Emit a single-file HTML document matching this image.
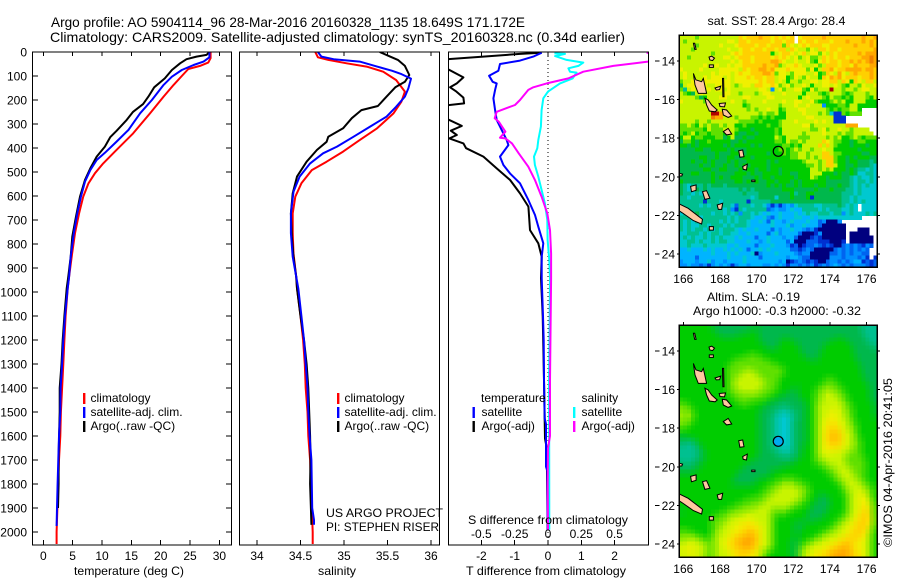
<!DOCTYPE html>
<html lang="en">
<head>
<meta charset="utf-8">
<title>Argo profile 5904114_96</title>
<style>
html,body{margin:0;padding:0;background:#fff;}
svg{display:block;}
text{font-family:"Liberation Sans",sans-serif;fill:#000;}
.t14{font-size:14px;}
.t12{font-size:12px;}
</style>
</head>
<body>
<svg id="chart" xmlns="http://www.w3.org/2000/svg" width="900" height="580" viewBox="0 0 900 580">
  <rect x="0" y="0" width="900" height="580" fill="#fff"/>
  <text class="t14" x="51" y="27" textLength="474" lengthAdjust="spacingAndGlyphs">Argo profile: AO 5904114_96 28-Mar-2016 20160328_1135 18.649S 171.172E</text>
  <text class="t14" x="50" y="42" textLength="575" lengthAdjust="spacingAndGlyphs">Climatology: CARS2009. Satellite-adjusted climatology: synTS_20160328.nc (0.34d earlier)</text>

  <g id="plots"></g>

  <text class="t12" x="74" y="575" textLength="110" lengthAdjust="spacingAndGlyphs">temperature (deg C)</text>
  <text class="t12" x="318" y="575" textLength="38" lengthAdjust="spacingAndGlyphs">salinity</text>
  <text class="t12" x="466" y="575" textLength="160" lengthAdjust="spacingAndGlyphs">T difference from climatology</text>
  <text class="t12" x="468" y="524" textLength="160" lengthAdjust="spacingAndGlyphs">S difference from climatology</text>

  <g>
    <rect x="83" y="393" width="2.4" height="11" fill="#f00"/>
    <text class="t12" x="90.5" y="402">climatology</text>
    <rect x="83" y="407" width="2.4" height="11" fill="#00f"/>
    <text class="t12" x="90.5" y="416">satellite-adj. clim.</text>
    <rect x="83" y="421" width="2.4" height="11" fill="#000"/>
    <text class="t12" x="90.5" y="430">Argo(..raw -QC)</text>
  </g>
  <g>
    <rect x="337" y="393" width="2.4" height="11" fill="#f00"/>
    <text class="t12" x="344.5" y="402">climatology</text>
    <rect x="337" y="407" width="2.4" height="11" fill="#00f"/>
    <text class="t12" x="344.5" y="416">satellite-adj. clim.</text>
    <rect x="337" y="421" width="2.4" height="11" fill="#000"/>
    <text class="t12" x="344.5" y="430">Argo(..raw -QC)</text>
  </g>
  <g>
    <text class="t12" x="481" y="402">temperature</text>
    <text class="t12" x="581.5" y="402">salinity</text>
    <rect x="472.5" y="407" width="2.4" height="11" fill="#00f"/>
    <text class="t12" x="481.5" y="416">satellite</text>
    <rect x="472.5" y="421" width="2.4" height="11" fill="#000"/>
    <text class="t12" x="481.5" y="430">Argo(-adj)</text>
    <rect x="573" y="407" width="2.4" height="11" fill="#0ff"/>
    <text class="t12" x="581.5" y="416">satellite</text>
    <rect x="573" y="421" width="2.4" height="11" fill="#f0f"/>
    <text class="t12" x="581.5" y="430">Argo(-adj)</text>
  </g>
  <text class="t12" x="326" y="517" textLength="117" lengthAdjust="spacingAndGlyphs">US ARGO PROJECT</text>
  <text class="t12" x="326" y="531" textLength="113" lengthAdjust="spacingAndGlyphs">PI: STEPHEN RISER</text>

  <text class="t12" x="707.5" y="25" textLength="138" lengthAdjust="spacingAndGlyphs">sat. SST: 28.4  Argo: 28.4</text>
  <text class="t12" x="707" y="301" textLength="93" lengthAdjust="spacingAndGlyphs">Altim. SLA: -0.19</text>
  <text class="t12" x="693" y="315" textLength="168" lengthAdjust="spacingAndGlyphs">Argo h1000: -0.3 h2000: -0.32</text>
  <text class="t12" transform="translate(892,547) rotate(-90)" x="0" y="0" textLength="169" lengthAdjust="spacingAndGlyphs">©IMOS 04-Apr-2016 20:41:05</text>
</svg>

<script>
/* ---------- ticks ---------- */
const depthTicks = [0,100,200,300,400,500,600,700,800,900,1000,1100,1200,1300,1400,1500,1600,1700,1800,1900,2000];
const tempTicks = [0,5,10,15,20,25,30];
const salTicks = [34,34.5,35,35.5,36];
const salTickLabels = ['34','34.5','35','35.5','36'];
const tDiffTicks = [-2,-1,0,1,2];
const sDiffTicks = [-0.5,-0.25,0,0.25,0.5];
const sDiffTickLabels = ['-0.5','-0.25','0','0.25','0.5'];
const lonTicks = [166,168,170,172,174,176];
const latTicks = [14,16,18,20,22,24];

/* ---------- temperature profiles (deg C vs depth m) ---------- */
const tempClimDepth = [0,26,44,58,71,100,137,186,255,339,415,464,505,547,603,672,755,840,936,985,1100,1200,1300,1400,1500,1600,1700,1800,1900,2000,2050];
const tempClimValue = [28.5,28.5,28.1,26.7,24.7,23.6,22.2,20.5,18.2,15.3,12.2,10.2,8.8,7.7,6.8,6.1,5.4,4.9,4.4,4.15,3.8,3.6,3.4,3.2,3.0,2.9,2.67,2.5,2.4,2.27,2.27];
const tempSatDepth = [0,22,40,54,75,103,137,200,255,325,373,420,450,492,540,603,672,755,853,936,985,1100,1200,1300,1400,1500,1600,1700,1800,1900,1975];
const tempSatValue = [28.3,28.3,27.3,25.6,23.6,21.9,20.5,18.5,16.5,14.5,12.5,10.5,9.1,8.0,7.1,6.4,5.8,5.2,4.66,4.4,4.15,3.7,3.4,3.2,2.95,2.9,2.67,2.55,2.44,2.33,2.27];
const tempArgoDepth = [0,12,19,30,47,75,110,147,186,217,249,283,328,355,394,436,485,533,603,686,769,853,936,985,1100,1200,1300,1400,1500,1600,1700,1800,1900];
const tempArgoValue = [28.3,27.8,26.1,24.4,23.3,21.9,20.7,18.9,17.9,17.0,15.3,14.2,12.5,11.4,10.5,9.1,8.0,7.1,6.25,5.57,4.94,4.66,4.26,3.98,3.6,3.3,3.1,2.8,2.8,2.7,2.6,2.6,2.5];

/* ---------- salinity profiles ---------- */
const salClimDepth = [0,22,33,47,61,82,117,165,207,255,318,367,415,457,492,547,603,672,755,840,936,985,1100,1200,1300,1400,1500,1600,1700,1800,1900,2000,2050];
const salClimValue = [34.67,34.70,34.82,35.03,35.26,35.45,35.6,35.70,35.66,35.57,35.38,35.18,34.99,34.80,34.63,34.51,34.44,34.41,34.41,34.42,34.45,34.46,34.50,34.53,34.55,34.56,34.58,34.59,34.61,34.62,34.63,34.64,34.64];
const salSatDepth = [0,19,30,40,61,78,92,111,151,186,228,269,311,353,394,422,464,519,582,672,755,853,936,985,1100,1200,1300,1400,1500,1600,1700,1800,1900,1950,1970];
const salSatValue = [34.70,34.74,34.88,35.18,35.38,35.55,35.66,35.77,35.74,35.70,35.6,35.49,35.30,35.11,34.92,34.76,34.61,34.49,34.42,34.39,34.39,34.41,34.45,34.475,34.51,34.54,34.56,34.58,34.59,34.605,34.625,34.63,34.635,34.655,34.655];
const salArgoDepth = [0,19,33,58,96,124,147,186,225,242,276,318,353,374,408,457,519,589,672,769,853,936,985,1100,1200,1300,1400,1500,1600,1700,1800,1900,1970];
const salArgoValue = [35.41,35.53,35.62,35.70,35.75,35.70,35.59,35.49,35.39,35.20,35.09,34.99,34.82,34.80,34.69,34.57,34.46,34.41,34.39,34.40,34.42,34.45,34.46,34.50,34.54,34.57,34.59,34.60,34.61,34.615,34.61,34.62,34.625];

/* ---------- difference profiles ---------- */
const diffTSatDepth = [3,19,36,50,78,99,124,131,158,193,242,283,325,367,388,436,471,506,547,617,679,728,797,853,943,1100,1200,1367,1527,1550,1728,1745,1992];
const diffTSatValue = [-0.19,-0.44,-0.84,-1.44,-1.49,-1.77,-1.66,-1.54,-1.59,-1.64,-1.59,-1.54,-1.39,-1.24,-1.19,-1.44,-1.34,-1.14,-0.84,-0.59,-0.39,-0.29,-0.14,-0.19,-0.19,-0.15,-0.13,-0.12,-0.1,-0.06,-0.06,-0.02,-0.01];
const diffTArgoDepth = [3,8,17,30,45,60,72,106,131,147,165,190,214,228,242,265,281,308,328,346,360,381,401,436,485,533,589,644,742,797,853,943,1100,1367,1610,1650,1992];
const diffTArgoValue = [-0.19,-0.84,-1.74,-3.0,-4.2,-3.8,-3.0,-2.54,-2.74,-2.94,-2.75,-2.54,-2.52,-3.4,-3.6,-3.4,-3.0,-2.59,-2.92,-2.74,-2.96,-2.54,-2.46,-1.94,-1.54,-1.14,-0.84,-0.59,-0.54,-0.29,-0.19,-0.21,-0.16,-0.12,-0.09,-0.04,-0.01];
const diffSSatDepth = [6,8,17,33,44,58,68,82,86,110,131,165,193,242,311,367,401,436,471,519,575,631,700,783,867,943,1367,1990];
const diffSSatValue = [0.048,0.128,0.053,0.14,0.265,0.228,0.153,0.165,0.215,0.185,0.09,0.0,-0.035,-0.048,-0.053,-0.073,-0.08,-0.105,-0.098,-0.073,-0.048,-0.023,-0.005,-0.003,0.01,0.015,0.008,0.01];
const diffSArgoDepth = [3,20,40,58,82,110,131,147,158,200,221,249,276,290,332,357,360,381,422,478,533,603,672,742,839,943,1367,1600,1650,1800,1990];
const diffSArgoValue = [0.74,0.95,0.75,0.49,0.265,0.153,-0.01,-0.11,-0.148,-0.21,-0.248,-0.385,-0.40,-0.37,-0.32,-0.36,-0.32,-0.27,-0.22,-0.148,-0.098,-0.048,-0.005,0.015,0.023,0.023,0.015,0.015,0.0,-0.002,0.0];

/* ---------- map data: one letter per grid cell, '.' = missing ---------- */
const colourBins = {a:'#00007f',b:'#0030d0',c:'#0064f0',d:'#0090ff',e:'#00b4ff',f:'#00c8d0',g:'#00c090',h:'#00b84c',i:'#00cc00',j:'#60e000',k:'#c8f400',l:'#f0f000',m:'#ffd000',n:'#ffa800',o:'#f08000',p:'#b00000'};
const sstRows = [
'kkkkjkkkkk kkkkkmlmmm nmmlmlmlm. lmmmmmnmmm mmmmmmnmmn',
'kjkkkkkkkk kkllkmmlmm mmmlmmlmm. mlmmlmmmlm mmnmmmnmnm',
'kkkkjkkkkk lkkklmmmml mmlmmmjmlk lmlmmmllmm mmmmnmmmnm',
'kkkjkkkkkk kklkklmmlm mlmmlmmkml kkjlkmmlmm lmmmmmmmmn',
'kkkkkkkkjk kkklmlmmmm mmmiklmmlk lmklljlkml mmmmmnmnnn',
'kkjkkkkkkk kllklmmmlm mmmlmlmlkl jkljjkmlml mmlmmmnnon',
'kkkkkkkkkk kkklklmmlm mmmnnmlkkl kkljilmlmm lmmnmnmnon',
'kkkkkklkkl kklkllmmmm mnmmnjkllm lkkkljkmmm lmmlnmmmnn',
'lkkkklkkkk lllllkmlmm nnmnlllmll lljlikmmnl mmnnnnmnnm',
'klkkkkkklk lllklmllmm mnnmjllkjl llkklijmlk nlkmnmmmnm',
'klkkkklkll lklklllmlm mlmmkllijl kjlkkimlnm nlmmmlmmnm',
'jkklkkllll lllkllllll mlmmklkikk jkkllkllmm kmlimlkmmk',
'hkllkklkkl lllkjkllkm mllmljkljk klkikkllkl kjikkjlkkl',
'jgklkkklkl lklkkkkkkk llkdkljkkl ljiljkkkpk kjkkjkllkk',
'kjihklkkkk kllkkjkkkj kllkkklkkk kikkkjijkk kjijkkkjkk',
'kkkkjhikkk llkkkkllkk kkllkkkkkk iklkkkjikj jijikkkjik',
'lkkkkkjkkk kkklkkjkkk klkkkklkkl lkkljiiijk jkiikkkiii',
'kkkkkkkkkk kkkkkkijkk kkkkkjkkkl kklkkkdiii jjikkiiiii',
'kkkkkkkkkk kkkkkkkjkj kklkkijkkk llkkkkkjij ijjkki....',
'kkkkkkkkpp nkkkkkkkkk jkjjkiikkk klkkkjkjfb bjijjj....',
'kkkkkkkkon nkkkjkkkjj ijijiiikkk kkllkkkkkb bb........',
'kkkkjkkjkk kkkkkjjjji jiiiijkkkl kkkklklkkb bb........',
'jjkjikjkjj kjkkiijiii iijiijkkkk klljkkkkkk kknnn.....',
'jjjjjjikjj jkkkjiiihi iiiijikkkk kkkjjkljkk lkkjkkkk..',
'jijkijjijj jikkihhiih iiiijikkkk kjkkkklkkk jkjjkkkkk.',
'ikkijjiiij jhikhhihhi iiiikjikkk jjjkkkkjkj kiijkjijjj',
'hjjihiijii iiihhihiii iiiijjikjj kjkkkkmlkj jiihijjiii',
'iihihiiiii ihihiiiihi hiiiiijjij ikkkkmkmkj iiihiiihii',
'hhhhiihhii iihihhhiii iiiiijjijk jkkjkklkki iiiiihiiii',
'hhhhhhhhhi hhhiiihiii iihiiijijj kkjkkkmmkj jiiiiihhii',
'hhhhhiihhi hhiihhiihi iiiiiiiijj kkjkjkmmmj iihihiiihh',
'hhhihhihih hhihihhiii iihihiiiii ijkkkjkmmj iihiihhhgh',
'hhhhhihhih hihhihihii iihiiiiiii iijjkjkmmk iihhihhhgf',
'hhhhhhiihh iihhhihiih iihiihiiii iiikkjkjki iihihggfgf',
'hhhiihhhih hhhhiiihih hiiiihiihh iiikkkiiih ihhihffggf',
'hhhhhhhhih ihhiiihhhi hiihiiiiih iiikjiihii ihhgfgffgf',
'ihhhhhhhih hhhhiihihi hhiihiiihi hiiiiiihhh hhhgfggfgf',
'hgfggghghh hghhhhhhhh hhihihihhi hiiihiihhh ihhgfgfgff',
'hgfghghggg ggggghghgh hhhhhhiiih hhhhihhhih hhggfgffff',
'hggfgfgggg gggggghggg hhhhhhhhig hhiihhhhhh hgggfgffff',
'ggfggggggg ggggggggfg hhhhfhhhih hhibhhhhhh hggfgfffff',
'ggggggbggg fggggggbgg ggghhhhhhh hhhhhhhhhh hggfgfgfff',
'gggggfgfgg gggfcgggfg gfdbdbdedf ggggffgggg hgfgf.ffff',
'hggggggggg gfgdbgfggg ggcdeddefe eggggfgfgg gffgf.ffff',
'fggghgggfg gfgfgdggfg fefeefeeef efgffgggfg gdfgfffgfg',
'gggggfgggg ggfgfgggfe efdcefeeef feefefffff ffffff....',
'gfgfgggggg fgfgfggfee fecfeedefe eefeecdaaa d.........',
'gfgffggfgg gfgfgggfee eeefeeefde efeeecaaaa aa........',
'gfgfggfgfg fgggfefeef eeecedeefe edcdbaaaaa aa...aaa..',
'ffgggfgfgg fggffeefee eecefdeeee caaabdaaaa aa.aaaaa..',
'fgfgffgfgf gfffefeeec eefeeedeec aaabcbaaaa aa.aaaaaa.',
'ffggfgffgf ggffeeefee defeeeecea aacccbbbaa ab.aaaaaa.',
'ffgfffgfff ffeefeeeec eeefeeedbc abccdcbcba acdcdcbdc.',
'eefeeefefe efefefecee fefeeeeecc bcdcaaaaac dcdcdcdc..',
'eeeeeeeefe eefefeeefa deeefeeeed cddaaaaacc dcdcddcc..',
'eeeeceeeee eefeeefeee ceeeeeedee dccaaaaadd dcdddcdb.b',
'deeedeefde edeeeefeee eeeeedeabc dcbcbaacdd cdcdeebcbc',
'ddeddcdbde dedbdeedee eddededbdd cdcdbcdcde dcdcdddcbc'
];
const slaRows = [
'iiiiiiiihh hhhhhhhhhh hhhhhhhhhh hhhhhhhhhh hhhhhhgggg',
'iiiiiiiiih hhhhhhhhii hhhhhhhhhh hhhhhhhhhh hhhhhhgggg',
'iiiiiiiiii hhhhhiiiii hhhhhhhhhh hhhhhhhhhh hhhhhhhggg',
'iiiiiiiiii iiiiiiiiii hhhhhhiihh hhhhhhhhhi iihhhhhggg',
'iiiiiiiiii iiiiiiiiii ihhhhiiiii hhhhhhhiii iiihhhhhgg',
'iiiiiiiiii iiiiiiiiii iihhhiiiii hhhhhhiiii iiiihhhhhg',
'iiiiiiiiii iiiiiiiiii iiiiiiiiii ihhhhhiiii iiiihhhhhh',
'iiiiiiiiii iiiiiiijjj iiiiiiiiii ihhhhiiiii iiiihhhhhh',
'iiiiiiiiii iiiijjjjjj jjiiiiiiii iiihhiiiii iiiiihhhhh',
'iiiiiiiiii iiijjjjjjj jjjjiiiiii iiiiiiiiii iiiiihhhhh',
'iiiiiiiiii iijjjjjjjj jjjjjjiiii iiiiiiiiii iiiiiihhhh',
'iiiiiiiiii iijjjjkkkj jjjjjjjiii iiiiiiiiii iiiiiihhhh',
'iiiiiiiiii iijjjkkkkk jjjjjjiiii iiiiiiiiii iiiiiihhhh',
'iiiiiiiiii iijjkkkkkk kjjjjiiiii iiiiiiijji iiiiiiihhh',
'iiiiiiiiii iijjkkkkkk kkjjjiiiii iiiiiijjjj iiiiiiihhh',
'iiiiiiiiii iijjkkkkkk kjjjjiiiih iiiiijjjjj jiiiiiiihh',
'iiiiiiiiii iijjjkkkkk jjjjiiiihh iiiijjkkkj jjiiiiiihh',
'iiiiiiiiii iiijjjjjjj jjjiiihhhh iiiijjkkkk jjiiiiiihh',
'iiiiiiiiii iiiijjjjjj jiiihhhhhh hiiijjkkkk kjjiiiiihh',
'jjiiiiiiii iiiiijjjii iihhhhhhhh hhiijkkkkk kjjiiiiiih',
'jjjiiiiiii iiiiiiiiii ihhhhggghh hhiijkkkkl kkjjiiiiih',
'jkjjiiiiii iiiiiiiiii hhhhgggggh hhiijkkkll kkjjiiiiih',
'jkjjiiiiii iiiiiiiiii hhhggfffgg hhiijkklll kkjjiiiiih',
'jkjjiiiiii iiiiiiiiii hhhggfffgh hhiijkklll lkkjiiiiii',
'jjjiiiiiii iiiiiiiiii hhhggfffgh hhiijkllml lkkjjiiiii',
'jjiiiiiiii iiiiiiiiii hhhggfffgh hhiijkllmm lkkjjiiiii',
'iiiiiiiiii iiiiiiiiii hhhggfffgh hhiijklmmm mlkkjiiiii',
'hiiiiiiiii iiiiiiiiii hhhggfffgh hhiijklmmn mlkkjiiiii',
'hhhhiiiiii iiiiiiiiii hhhggfffgh hhiijklmmn mlkkjjiiii',
'hggghiiiii iiiiiiiiii hhhggfffgh hhiijklmmm mlkkjjiiii',
'gggghhiiii iiiiiiiiii hhhgggffgh hiiijklllm llkkjjiiii',
'ggggghiiii iiiiiiiiii hhhhgggggh hiiijkllll kkkjjjiiii',
'ggggghhiii iiiiiiiiii hhhhhggggh hiiijkkkkk kkjjjjiiii',
'gggghhiiii iiiiiiiiih hhhhhhhhhh iiiijjkkkk kkjjjjjiii',
'hgghhhiiii iiiiiiihhh hhhhhhhhhi iiiijjjkkk kkjjjjjiii',
'hhhhhiiiii iiiiiihhhh hhhhhhiiii iiiiiijjjk kkkjjjjiii',
'hhhhiiiiii iiiiihhhhh hhhiiiiiii iiiiiiijjj kkkkjjjiii',
'iiiiiiiiii iiiihhhhhh hhhiiiiiii iiiiiiiijj kkkkjjjiii',
'iiiiiiiiii iiiihhhhhh iiiiijjjjj iiiiiiiiij jkkkkjjiii',
'iiiiiiiiii iiihhhhhhi iiijjjjkjj jjiiiiiiii jjkkkkjjii',
'iiiiiiiiii iiiiiiiiii iijjjkkkkk jjjiiiiiii ijkkkkkjji',
'iiiiiiiiii iiiiiiiiii ijjjkkkkkk kjjiiiiiii ijjkkkljji',
'iiiiiiiiii iiiiiiiiii jjjkkkkkkk kjjiihhiii iijkkllkji',
'iiiiiiiiii iiiiiiijjj jjkkkkkkkk jjiiihhhii iijkklllji',
'iiiiiiiiii iiiiijjjjj jkkkkkkkkj jjiihhhhii iijkklllki',
'iiiiiiiiii iiijjjjjjk kkkkjkkjjj iiihhhhhii iijkkllmki',
'hiiiiiiiii ijjjjjkkkk kkkjjjjjii iiihhhhiii iijkklmmki',
'iiiiiiiiij jjjkkkkkkk kkkjijiiii iihhhhhiii ijjkllmmli',
'iiiiiiiijj jjkkkklllk kkkjiiiiii iihhhiiiii jjkklmmmli',
'iiiiiiiijj jkkkllllll kkkjiiiiih hhiiiiiiij jkkllmmmli',
'iiiiiiiijj kkklllmmml lkkjiiiiih hiiiiiiijj kkllmmmlki',
'jjjiiiiijj kkklllmmmm lkkjiiiiih iiiiiijjjk kkllmmmlji',
'jjjjjiiijk kkllmmmnnm lkkjiiiiih iiiiijjkkk kllmmmllji',
'jkkkkjjjjk kllmmnnnnm lkkjiiiiih iiijjkkkkl lmmmmllkji',
'kkkkkkjjjk kllmmnnnnm lkkjiiiihh ijjkkkklll mmmmlllkji',
'klllkkkjjk kllmmmnnmm lkkjiiiihh jjkkklllmm mnnmlllkji',
'kllllkkjjk kkllmmmmml kjjiiiiiih jkkllllmmn nnnmmllkji',
'kkkkkkjjjk kkkllmmlll kjiiiiiihh jkkllmmmnn nnnmmllkji'
];
/* island outlines as lon,lat pairs */
const islands = [
 [[166.55,14.64],[166.69,14.98],[167.0,15.07],[167.09,14.9],[167.27,15.68],[166.82,15.68],[166.64,15.24]],
 [[167.18,15.93],[167.36,16.02],[167.55,16.28],[167.85,16.54],[167.73,16.63],[167.42,16.59],[167.27,16.28]],
 [[166.55,13.08],[166.62,13.08],[166.7,13.4],[166.62,13.4]],
 [[167.4,13.8],[167.55,13.75],[167.7,13.85],[167.6,13.98],[167.45,13.95]],
 [[167.42,14.2],[167.64,14.2],[167.64,14.33],[167.42,14.33]],
 [[168.14,14.9],[168.2,14.9],[168.22,15.85],[168.16,15.85]],
 [[167.73,15.4],[168.04,15.3],[167.98,15.48],[167.8,15.5]],
 [[167.96,16.2],[168.3,16.17],[168.25,16.38],[168.0,16.36]],
 [[168.13,16.5],[168.36,16.54],[168.64,16.85],[168.45,16.92],[168.18,16.8]],
 [[168.18,17.66],[168.45,17.49],[168.64,17.78],[168.36,17.83]],
 [[169.02,18.65],[169.24,18.61],[169.31,18.96],[169.09,18.99]],
 [[169.24,19.47],[169.49,19.34],[169.45,19.65],[169.27,19.61]],
 [[169.73,20.17],[169.91,20.17],[169.91,20.25],[169.73,20.25]],
 [[165.7,21.37],[166.27,21.63],[167.05,22.2],[167.0,22.45],[166.55,22.27],[166.0,21.9],[165.7,21.72]],
 [[166.4,20.5],[166.7,20.42],[166.7,20.7],[166.45,20.77]],
 [[167.05,20.77],[167.27,20.72],[167.45,21.11],[167.18,21.17]],
 [[167.85,21.46],[168.15,21.37],[168.09,21.69],[167.91,21.69]],
 [[167.42,22.58],[167.64,22.58],[167.64,22.76],[167.42,22.76]],
 [[165.78,19.82],[165.96,19.86],[165.92,19.96],[165.78,19.96]]
];
const floatLon = 171.18;
const floatLat = 18.68;

/* ---------- axis functions ---------- */
const yDepth = d => 52 + 0.24 * d;
const xTemp = v => 43.3 + 5.87 * v;
const xSal = v => 257 + 87 * (v - 34);
const xTDiff = v => 548 + 33.3 * v;
const xSDiff = v => 548 + 133.2 * v;
const xLon = v => 683.3 + 18.33 * (v - 166);
const yLat = (v, off) => 61 + off + 19.3 * (v - 14);
const cellLonStart = 165.78, cellLonStep = 0.216;
const cellLatStart = 12.67, cellLatStep = 0.2073;

const NS = 'http://www.w3.org/2000/svg';
const root = document.getElementById('plots');
function mk(tag, parent) {
  const node = document.createElementNS(NS, tag);
  parent.appendChild(node);
  return node;
}
function tickLine(parent, x1, y1, x2, y2) {
  const el = mk('line', parent);
  
  
  el.setAttribute('x1', x1);
  el.setAttribute('y1', y1);
  el.setAttribute('x2', x2);
  el.setAttribute('y2', y2);
  el.setAttribute('stroke', '#000');
  el.setAttribute('stroke-width', '1');
  el.setAttribute('shape-rendering', 'crispEdges');
}
function label(parent, str, x, y, anchor, name) {
  const el = mk('text', parent);
  
  
  el.setAttribute('class', 't12');
  el.setAttribute('x', x);
  el.setAttribute('y', y);
  el.setAttribute('text-anchor', anchor);
  el.textContent = str;
}
function clip(id, x, y, w, h) {
  const cp = mk('clipPath', root);
  cp.id = id;
  const r = mk('rect', cp);
  r.setAttribute('x', x);
  r.setAttribute('y', y);
  r.setAttribute('width', w);
  r.setAttribute('height', h);
}
function frame(parent, x, y, w, h, name) {
  const el = mk('rect', parent);
  
  
  el.setAttribute('x', x);
  el.setAttribute('y', y);
  el.setAttribute('width', w);
  el.setAttribute('height', h);
  el.setAttribute('fill', 'none');
  el.setAttribute('stroke', '#000');
  el.setAttribute('stroke-width', '1.3');
  el.setAttribute('shape-rendering', 'crispEdges');
}
function series(parent, depths, values, xf, colour, clipId, name) {
  const el = mk('polyline', parent);
  
  
  el.setAttribute('points', depths.map((d, i) => xf(values[i]).toFixed(1) + ',' + yDepth(d).toFixed(1)).join(' '));
  el.setAttribute('fill', 'none');
  el.setAttribute('stroke', colour);
  el.setAttribute('stroke-width', '2');
  el.setAttribute('stroke-linejoin', 'round');
  el.setAttribute('clip-path', 'url(#' + clipId + ')');
}

/* ---------- profile panels ---------- */
const panelTop = 52, panelBottom = 545;
clip('clip-temp', 32.5, panelTop, 199, panelBottom - panelTop);
clip('clip-sal', 239.5, panelTop, 200, panelBottom - panelTop);
clip('clip-diff', 448.5, panelTop, 200, panelBottom - panelTop);

const tempPanel = mk('g', root);


series(tempPanel, tempClimDepth, tempClimValue, xTemp, '#f00', 'clip-temp', 'temperature-climatology-line');
series(tempPanel, tempArgoDepth, tempArgoValue, xTemp, '#000', 'clip-temp', 'temperature-argo-line');
series(tempPanel, tempSatDepth, tempSatValue, xTemp, '#00f', 'clip-temp', 'temperature-satellite-line');
frame(tempPanel, 32.5, panelTop, 199, panelBottom - panelTop, 'temperature-plot-frame');
depthTicks.forEach(d => {
  tickLine(tempPanel, 32.5, yDepth(d), 38, yDepth(d));
  tickLine(tempPanel, 226, yDepth(d), 231.5, yDepth(d));
  label(tempPanel, d, 27, yDepth(d) + 4.5, 'end', 'depth-tick-label');
});
tempTicks.forEach(v => {
  tickLine(tempPanel, xTemp(v), panelTop, xTemp(v), panelTop + 4);
  tickLine(tempPanel, xTemp(v), panelBottom - 5, xTemp(v), panelBottom);
  label(tempPanel, v, xTemp(v), 560, 'middle', 'temperature-tick-label');
});

const salPanel = mk('g', root);


series(salPanel, salClimDepth, salClimValue, xSal, '#f00', 'clip-sal', 'salinity-climatology-line');
series(salPanel, salArgoDepth, salArgoValue, xSal, '#000', 'clip-sal', 'salinity-argo-line');
series(salPanel, salSatDepth, salSatValue, xSal, '#00f', 'clip-sal', 'salinity-satellite-line');
frame(salPanel, 239.5, panelTop, 200, panelBottom - panelTop, 'salinity-plot-frame');
salTicks.forEach((v, i) => {
  tickLine(salPanel, xSal(v), panelTop, xSal(v), panelTop + 4);
  tickLine(salPanel, xSal(v), panelBottom - 5, xSal(v), panelBottom);
  label(salPanel, salTickLabels[i], xSal(v), 560, 'middle', 'salinity-tick-label');
});

const diffPanel = mk('g', root);


const zeroLine = mk('line', diffPanel);


zeroLine.setAttribute('x1', xTDiff(0));
zeroLine.setAttribute('x2', xTDiff(0));
zeroLine.setAttribute('y1', panelTop);
zeroLine.setAttribute('y2', panelBottom);
zeroLine.setAttribute('stroke', '#000');
zeroLine.setAttribute('stroke-width', '1');
zeroLine.setAttribute('stroke-dasharray', '1 3');
series(diffPanel, diffTArgoDepth, diffTArgoValue, xTDiff, '#000', 'clip-diff', 'temperature-argo-difference-line');
series(diffPanel, diffTSatDepth, diffTSatValue, xTDiff, '#00f', 'clip-diff', 'temperature-satellite-difference-line');
series(diffPanel, diffSSatDepth, diffSSatValue, xSDiff, '#0ff', 'clip-diff', 'salinity-satellite-difference-line');
series(diffPanel, diffSArgoDepth, diffSArgoValue, xSDiff, '#f0f', 'clip-diff', 'salinity-argo-difference-line');
frame(diffPanel, 448.5, panelTop, 200, panelBottom - panelTop, 'difference-plot-frame');
tDiffTicks.forEach(v => {
  tickLine(diffPanel, xTDiff(v), panelTop, xTDiff(v), panelTop + 4);
  tickLine(diffPanel, xTDiff(v), panelBottom - 5, xTDiff(v), panelBottom);
  label(diffPanel, v, xTDiff(v), 560, 'middle', 't-difference-tick-label');
});
sDiffTicks.forEach((v, i) => {
  label(diffPanel, sDiffTickLabels[i], xSDiff(v), 538, 'middle', 's-difference-tick-label');
});

/* ---------- maps ---------- */
function hexToRgb(hex) {
  return [parseInt(hex.slice(1, 3), 16), parseInt(hex.slice(3, 5), 16), parseInt(hex.slice(5, 7), 16)];
}
/* colour of one cell; radius > 0 averages the bin colours of neighbouring cells */
function cellColour(grid, r, c, radius) {
  const own = colourBins[grid[r][c]];
  if (!own) return null;
  if (!radius) return own;
  const sum = [0, 0, 0];
  let n = 0;
  for (let i = r - radius; i <= r + radius; i++) {
    for (let j = c - radius; j <= c + radius; j++) {
      if (!grid[i] || !colourBins[grid[i][j]]) continue;
      const rgb = hexToRgb(colourBins[grid[i][j]]);
      sum[0] += rgb[0];
      sum[1] += rgb[1];
      sum[2] += rgb[2];
      n++;
    }
  }
  return 'rgb(' + sum.map(v => Math.round(v / n)).join(',') + ')';
}
function drawMap(rows, off, mapName, markerFill, radius) {
  const g = mk('g', root);
  
  
  const cid = 'clip-' + mapName;
  clip(cid, 679.3, 35.3 + off, 198, 232);
  const cells = mk('g', g);
  
  
  cells.setAttribute('shape-rendering', 'crispEdges');
  cells.setAttribute('clip-path', 'url(#' + cid + ')');
  const grid = rows.map(raw => raw.replace(/ /g, ''));
  grid.forEach((row, r) => {
    for (let c = 0; c < row.length; c++) {
      const col = cellColour(grid, r, c, radius);
      if (!col) continue;
      const x0 = xLon(cellLonStart + c * cellLonStep);
      const x1 = xLon(cellLonStart + (c + 1) * cellLonStep);
      const y0 = yLat(cellLatStart + r * cellLatStep, off);
      const y1 = yLat(cellLatStart + (r + 1) * cellLatStep, off);
      const el = mk('rect', cells);
      
      
      el.setAttribute('x', x0.toFixed(2));
      el.setAttribute('y', y0.toFixed(2));
      el.setAttribute('width', (x1 - x0 + 0.4).toFixed(2));
      el.setAttribute('height', (y1 - y0 + 0.4).toFixed(2));
      el.setAttribute('fill', col);
    }
  });
  islands.forEach(shape => {
    const el = mk('polygon', g);
    
    
    el.setAttribute('points', shape.map(p => xLon(p[0]).toFixed(1) + ',' + yLat(p[1], off).toFixed(1)).join(' '));
    el.setAttribute('fill', '#ffc8a0');
    el.setAttribute('stroke', '#000');
    el.setAttribute('stroke-width', '1');
    el.setAttribute('clip-path', 'url(#' + cid + ')');
  });
  const marker = mk('circle', g);
  
  
  marker.setAttribute('cx', xLon(floatLon));
  marker.setAttribute('cy', yLat(floatLat, off));
  marker.setAttribute('r', '5');
  marker.setAttribute('fill', markerFill);
  marker.setAttribute('stroke', '#000');
  marker.setAttribute('stroke-width', '1.2');
  frame(g, 679.3, 35.3 + off, 198, 232, mapName + '-frame');
  lonTicks.forEach(v => {
    tickLine(g, xLon(v), 32 + off, xLon(v), 35.3 + off);
    label(g, v, xLon(v), 283 + off, 'middle', 'longitude-tick-label');
  });
  latTicks.forEach(v => {
    tickLine(g, 655, yLat(v, off), 659.5, yLat(v, off));
    tickLine(g, 677, yLat(v, off), 679.3, yLat(v, off));
    tickLine(g, 877.3, yLat(v, off), 880, yLat(v, off));
    label(g, v, 675, yLat(v, off) + 4.5, 'end', 'latitude-tick-label');
  });
}
drawMap(sstRows, 0, 'sst-map', 'none', 0);
drawMap(slaRows, 290, 'sla-map', '#00aaee', 1);
</script>
</body>
</html>
